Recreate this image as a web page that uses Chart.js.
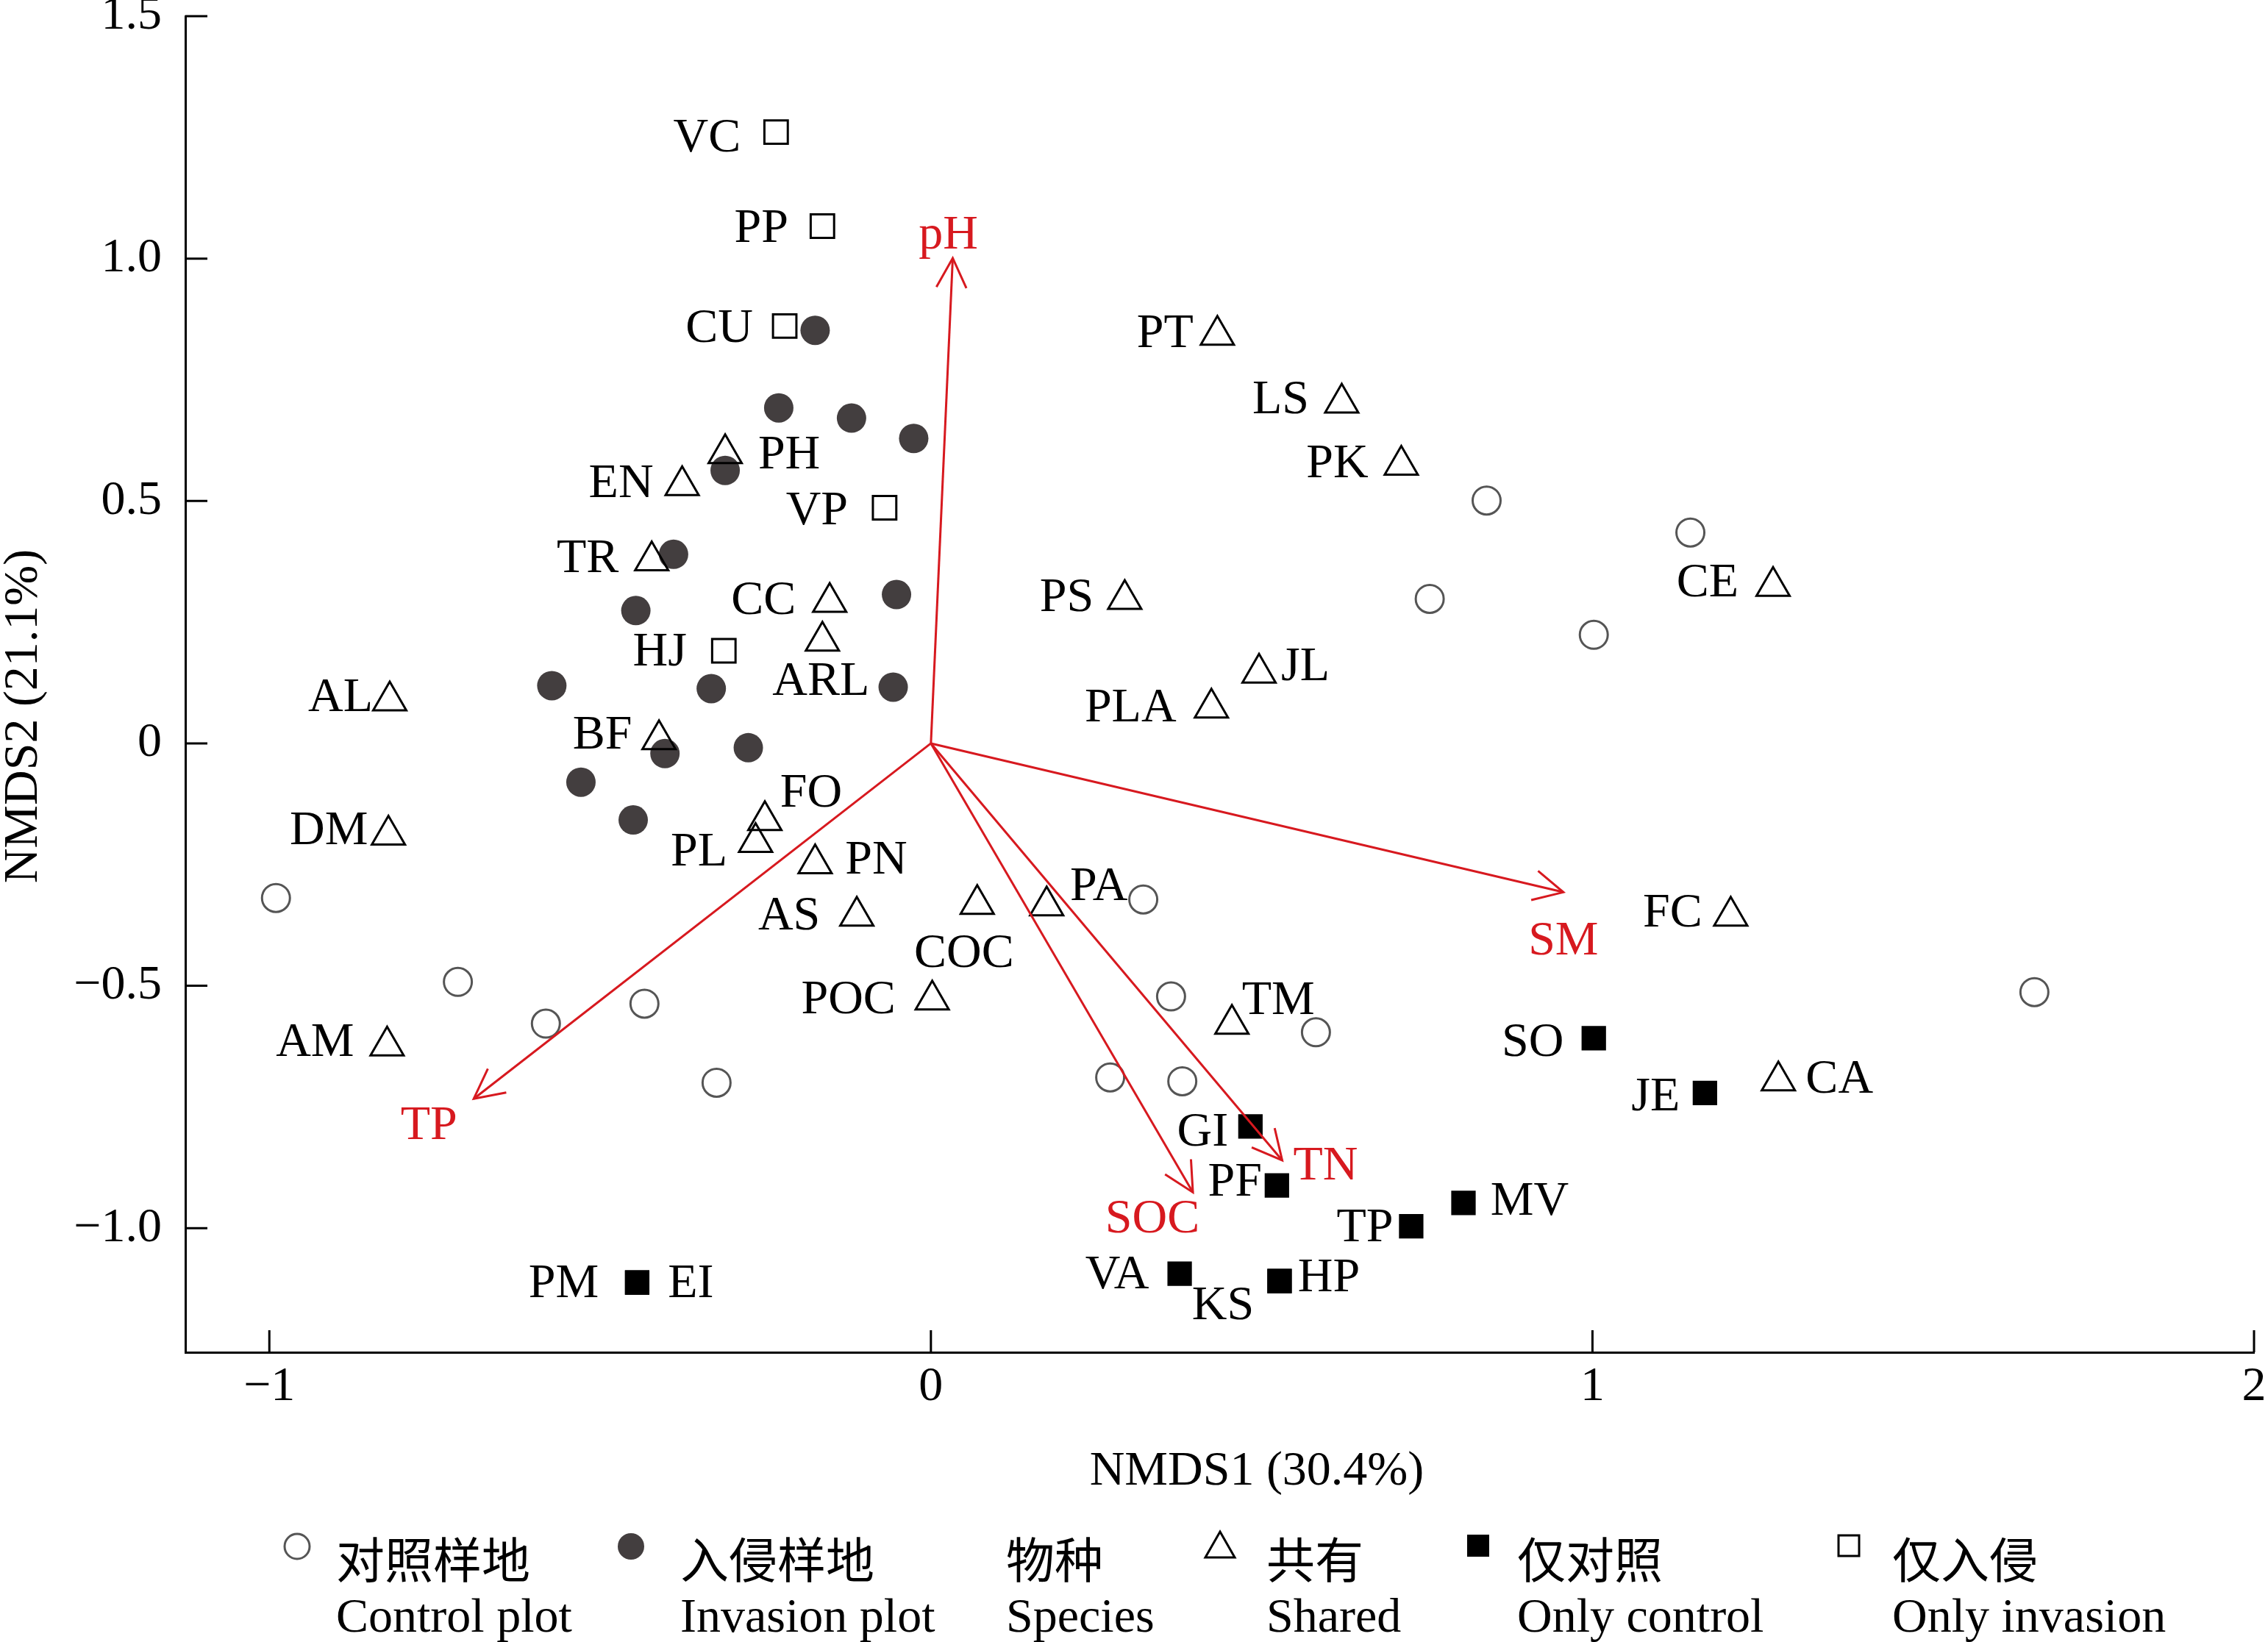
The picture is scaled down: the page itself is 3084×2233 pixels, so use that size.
<!DOCTYPE html>
<html>
<head>
<meta charset="utf-8">
<style>
  html, body { margin: 0; padding: 0; background: #fff; }
  canvas { display: block; }
</style>
<script src="https://cdn.jsdelivr.net/npm/chart.js"></script>
</head>
<body>
<canvas id="nmds" width="3084" height="2233"></canvas>

<script>
  // NMDS site scores
  const controlX = [-0.99, -0.715, -0.582, -0.433, -0.324, 0.840, 1.148, 0.754, 1.002, 0.321, 0.363, 0.582, 0.271, 0.380, 1.668];
  const controlY = [-0.319, -0.492, -0.578, -0.537, -0.700, 0.501, 0.435, 0.298, 0.224, -0.322, -0.522, -0.596, -0.689, -0.697, -0.513];
  const invasionX = [-0.175, -0.230, -0.120, -0.026, -0.311, -0.389, -0.446, -0.052, -0.573, -0.332, -0.057, -0.402, -0.276, -0.529, -0.450];
  const invasionY = [0.852, 0.692, 0.671, 0.629, 0.563, 0.390, 0.274, 0.307, 0.119, 0.113, 0.116, -0.021, -0.009, -0.080, -0.158];

  // species scores
  const sharedNames = ['AL', 'DM', 'AM', 'BF', 'TR', 'EN', 'PH', 'CC', 'ARL', 'FO', 'PL', 'PN', 'AS', 'COC', 'PA', 'POC', 'TM', 'PS', 'PLA', 'JL', 'PT', 'LS', 'PK', 'CE', 'FC', 'CA'];
  const sharedX = [-0.818, -0.820, -0.822, -0.411, -0.422, -0.376, -0.311, -0.153, -0.164, -0.251, -0.265, -0.175, -0.112, 0.070, 0.175, 0.002, 0.455, 0.293, 0.424, 0.496, 0.433, 0.621, 0.711, 1.273, 1.209, 1.281];
  const sharedY = [0.088, -0.189, -0.624, 0.008, 0.377, 0.532, 0.598, 0.291, 0.211, -0.159, -0.204, -0.248, -0.356, -0.332, -0.335, -0.529, -0.579, 0.297, 0.073, 0.145, 0.842, 0.702, 0.574, 0.324, -0.356, -0.696];

  const onlyControlNames = ['GI', 'PF', 'TP', 'MV', 'VA', 'HP', 'KS', 'SO', 'JE', 'PM', 'EI'];
  const onlyControlX = [0.483, 0.523, 0.726, 0.805, 0.376, 0.527, 0.527, 1.002, 1.170, -0.444, -0.444];
  const onlyControlY = [-0.790, -0.912, -0.996, -0.948, -1.094, -1.109, -1.109, -0.608, -0.721, -1.112, -1.112];

  const onlyInvasionNames = ['VC', 'PP', 'CU', 'VP', 'HJ'];
  const onlyInvasionX = [-0.234, -0.164, -0.221, -0.070, -0.313];
  const onlyInvasionY = [1.261, 1.067, 0.861, 0.486, 0.191];

  // soil vectors
  const envNames = ['pH', 'SM', 'TP', 'SOC', 'TN'];
  const envX = [0.033, 0.956, -0.691, 0.396, 0.531];
  const envY = [1.001, -0.307, -0.733, -0.926, -0.860];

  const xTicks = [-1, 0, 1, 2];
  const xTickLabels = ['\u22121', '0', '1', '2'];
  const yTicks = [-1, -0.5, 0, 0.5, 1, 1.5];
  const yTickLabels = ['\u22121.0', '\u22120.5', '0', '0.5', '1.0', '1.5'];

  // where each label sits relative to its marker (px)
  const speciesLabelOffsets = {
    VC: [-94, 4], PP: [-83, 0], CU: [-89, 0], VP: [-92, 0], HJ: [-87, -2],
    PH: [87, -2], EN: [-83, -6], TR: [-87, -6], CC: [-90, -6], ARL: [-2, 51],
    AL: [-67, -8], BF: [-77, -10], DM: [-81, -10], FO: [63, -41], PL: [-77, 10],
    PN: [83, -8], AS: [-92, -4], COC: [-18, 63], PA: [71, -30], POC: [-114, -4],
    AM: [-98, -8], TM: [63, -36], PS: [-79, -6], PLA: [-110, -4], JL: [63, -12],
    PT: [-71, -6], LS: [-83, -8], PK: [-87, -6], CE: [-89, -8], FC: [-79, -8], CA: [83, -6],
    SO: [-83, 2], JE: [-67, 2], GI: [-65, 4], PF: [-57, -8], TP: [-63, -2], MV: [90, -6],
    VA: [-85, -2], HP: [67, -8], KS: [-77, 30], PM: [-100, -2], EI: [73, -2]
  };
  const envLabelOffsets = { pH: [-6, -35], SM: [0, 63], TP: [-61, 33], SOC: [-55, 33], TN: [59, 4] };

  const RED = '#d7191f';
  const FONT = "66px 'Liberation Serif', 'Noto Sans CJK SC', serif";
  const CAP = 22; // half cap height, used to centre text vertically

  const pts = (xs, ys) => xs.map((x, i) => ({ x: x, y: ys[i] }));

  const datasets = [];
  envNames.forEach((name, i) => {
    datasets.push({
      label: name,
      data: [{ x: 0, y: 0 }, { x: envX[i], y: envY[i] }],
      showLine: true,
      borderColor: RED,
      borderWidth: 3,
      pointRadius: 0,
      fill: false
    });
  });
  datasets.push({
    label: 'Only invasion',
    data: pts(onlyInvasionX, onlyInvasionY),
    pointStyle: 'rect', pointRadius: 22.5,
    backgroundColor: 'rgba(255,255,255,0)', borderColor: '#000', borderWidth: 3
  });
  datasets.push({
    label: 'Only control',
    data: pts(onlyControlX, onlyControlY),
    pointStyle: 'rect', pointRadius: 23.5,
    backgroundColor: '#000', borderColor: '#000', borderWidth: 0
  });
  datasets.push({
    label: 'Shared',
    data: pts(sharedX, sharedY),
    pointStyle: 'triangle', pointRadius: 26,
    backgroundColor: 'rgba(255,255,255,0)', borderColor: '#000', borderWidth: 3
  });
  datasets.push({
    label: 'Invasion plot',
    data: pts(invasionX, invasionY),
    pointStyle: 'circle', pointRadius: 20,
    backgroundColor: '#433e3f', borderColor: '#433e3f', borderWidth: 0
  });
  datasets.push({
    label: 'Control plot',
    data: pts(controlX, controlY),
    pointStyle: 'circle', pointRadius: 19,
    backgroundColor: 'rgba(255,255,255,0)', borderColor: '#555', borderWidth: 3
  });

  const decor = {
    id: 'decor',
    afterDraw(chart) {
      const ctx = chart.ctx;
      const xs = chart.scales.x, ys = chart.scales.y;
      const area = chart.chartArea;
      ctx.save();

      // inward tick marks
      ctx.strokeStyle = '#000';
      ctx.lineWidth = 3;
      ctx.beginPath();
      xTicks.forEach(v => {
        const px = xs.getPixelForValue(v);
        ctx.moveTo(px, area.bottom);
        ctx.lineTo(px, area.bottom - 30);
      });
      yTicks.forEach(v => {
        const py = ys.getPixelForValue(v);
        ctx.moveTo(area.left, py);
        ctx.lineTo(area.left + 30, py);
      });
      ctx.stroke();

      // arrow heads
      ctx.strokeStyle = RED;
      ctx.lineWidth = 3;
      const ox = xs.getPixelForValue(0), oy = ys.getPixelForValue(0);
      envNames.forEach((name, i) => {
        const tx = xs.getPixelForValue(envX[i]), ty = ys.getPixelForValue(envY[i]);
        const ang = Math.atan2(ty - oy, tx - ox);
        ctx.beginPath();
        ctx.moveTo(tx - 45 * Math.cos(ang - 0.47), ty - 45 * Math.sin(ang - 0.47));
        ctx.lineTo(tx, ty);
        ctx.lineTo(tx - 45 * Math.cos(ang + 0.47), ty - 45 * Math.sin(ang + 0.47));
        ctx.stroke();
      });

      // point labels
      ctx.font = FONT;
      ctx.textAlign = 'center';
      ctx.textBaseline = 'alphabetic';
      const drawLabels = (names, xv, yv) => {
        names.forEach((name, i) => {
          const off = speciesLabelOffsets[name];
          const px = xs.getPixelForValue(xv[i]), py = ys.getPixelForValue(yv[i]);
          ctx.fillText(name, px + off[0], py + off[1] + CAP);
        });
      };
      ctx.fillStyle = '#000';
      drawLabels(sharedNames, sharedX, sharedY);
      drawLabels(onlyControlNames, onlyControlX, onlyControlY);
      drawLabels(onlyInvasionNames, onlyInvasionX, onlyInvasionY);

      ctx.fillStyle = RED;
      envNames.forEach((name, i) => {
        const off = envLabelOffsets[name];
        const px = xs.getPixelForValue(envX[i]), py = ys.getPixelForValue(envY[i]);
        ctx.fillText(name, px + off[0], py + off[1] + CAP);
      });

      // axis titles
      ctx.fillStyle = '#000';
      ctx.fillText('NMDS1 (30.4%)', 1709, 1997 + CAP);
      ctx.save();
      ctx.translate(28 + CAP, 974);
      ctx.rotate(-Math.PI / 2);
      ctx.fillText('NMDS2 (21.1%)', 0, 0);
      ctx.restore();

      // legend
      const symY = 2103;
      ctx.lineWidth = 3;
      ctx.strokeStyle = '#555';
      ctx.beginPath();
      ctx.arc(404, symY, 17, 0, Math.PI * 2);
      ctx.stroke();
      ctx.fillStyle = '#433e3f';
      ctx.beginPath();
      ctx.arc(858, symY, 18, 0, Math.PI * 2);
      ctx.fill();
      ctx.strokeStyle = '#000';
      ctx.beginPath();
      ctx.moveTo(1659, symY - 20);
      ctx.lineTo(1679, symY + 15);
      ctx.lineTo(1639, symY + 15);
      ctx.closePath();
      ctx.stroke();
      ctx.fillStyle = '#000';
      ctx.fillRect(2010 - 15, symY - 16, 30, 30);
      ctx.strokeRect(2514 - 14, symY - 15, 28, 28);

      const legendText = [
        [457, '对照样地', 'Control plot'],
        [925, '入侵样地', 'Invasion plot'],
        [1368, '物种', 'Species'],
        [1722, '共有', 'Shared'],
        [2063, '仅对照', 'Only control'],
        [2573, '仅入侵', 'Only invasion']
      ];
      ctx.textAlign = 'left';
      ctx.fillStyle = '#000';
      legendText.forEach(t => {
        ctx.fillText(t[1], t[0], 2146);
        ctx.fillText(t[2], t[0], 2219);
      });
      ctx.restore();
    }
  };

  const tickFont = { family: "'Liberation Serif', serif", size: 66 };

  new Chart(document.getElementById('nmds').getContext('2d'), {
    type: 'scatter',
    data: { datasets: datasets },
    options: {
      responsive: false,
      maintainAspectRatio: false,
      devicePixelRatio: 1,
      animation: false,
      events: [],
      layout: { autoPadding: false, padding: { left: 0, top: 22, right: 19, bottom: 194 } },
      plugins: { legend: { display: false }, tooltip: { enabled: false } },
      scales: {
        x: {
          type: 'linear',
          min: -1.127,
          max: 2,
          grid: { drawOnChartArea: false, drawTicks: false },
          border: { display: true, color: '#000', width: 3 },
          ticks: {
            color: '#000',
            font: tickFont,
            padding: 8,
            maxRotation: 0,
            callback: (v, i) => xTickLabels[i]
          },
          afterBuildTicks: s => { s.ticks = xTicks.map(v => ({ value: v })); },
          afterFit: s => { s.height = 200; s.paddingLeft = 0; s.paddingRight = 0; }
        },
        y: {
          type: 'linear',
          min: -1.256,
          max: 1.5,
          grid: { drawOnChartArea: false, drawTicks: false },
          border: { display: true, color: '#000', width: 3 },
          ticks: {
            color: '#000',
            font: tickFont,
            padding: 32,
            callback: (v, i) => yTickLabels[i]
          },
          afterBuildTicks: s => { s.ticks = yTicks.map(v => ({ value: v })); },
          afterFit: s => { s.width = 252; s.paddingTop = 0; s.paddingBottom = 0; }
        }
      }
    },
    plugins: [decor]
  });
</script>
</body>
</html>
